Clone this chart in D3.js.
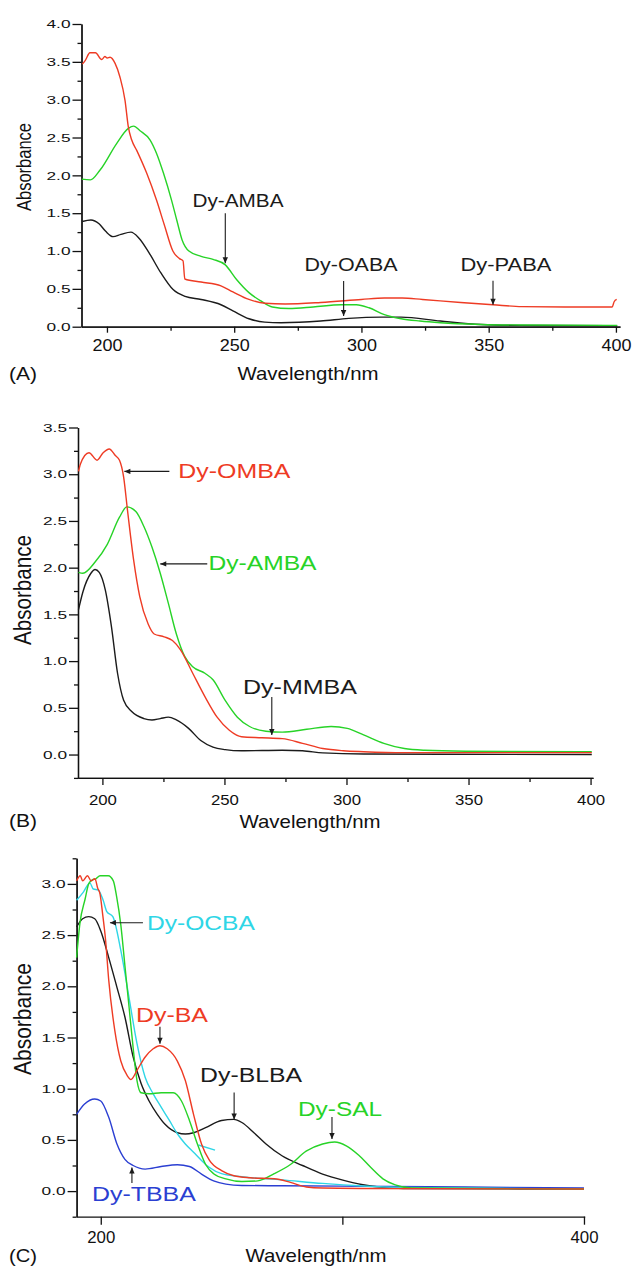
<!DOCTYPE html>
<html>
<head>
<meta charset="utf-8">
<script src="https://cdn.jsdelivr.net/npm/d3@7"></script>
<style>
  body { margin: 0; background: #fff; }
  svg { display: block; font-family: Arial, "Liberation Sans", Helvetica, sans-serif; }
</style>
</head>
<body>
<svg id="chart" width="632" height="1267"></svg>
<script>
// ---- colours
const RED = '#ee3b24', GREEN = '#27d327', BLACK = '#1b1b1b', CYAN = '#2fd6e6', BLUE = '#2b3fd2';

// ---- panel A spectra  [wavelength nm, absorbance]
const aPABA = [[190.3,3.47],[191.5,3.52],[193.3,3.62],[195.5,3.62],[197.9,3.53],[199.2,3.57],[200.1,3.55],[201.2,3.56],[203.2,3.48],[205.1,3.30],[207.1,2.99],[208.4,2.64],[209.7,2.47],[211.7,2.33],[215.6,2.03],[219.5,1.67],[222.5,1.35],[225.9,1.0],[228.5,0.9],[229.9,0.87],[230.6,0.63],[237,0.59],[244.8,0.54],[249.5,0.46],[255.8,0.36],[262.1,0.31],[270,0.30],[284,0.32],[300,0.36],[309,0.38],[316,0.38],[324,0.36],[339,0.32],[351.7,0.29],[363,0.265],[380,0.26],[398.5,0.26],[399.3,0.33],[400.3,0.36]];
const aAMBA = [[190.1,1.95],[193.5,1.94],[197.3,2.07],[203.8,2.42],[208.4,2.62],[210.5,2.65],[213,2.59],[216.9,2.47],[219.5,2.29],[222.2,2.03],[225.4,1.67],[227.5,1.4],[229.5,1.15],[232.2,1.0],[237,0.93],[241.7,0.89],[246.4,0.82],[251,0.62],[255.8,0.45],[260.5,0.34],[265,0.26],[271.5,0.24],[281,0.26],[292,0.29],[298,0.29],[303,0.25],[309,0.16],[315.6,0.105],[323,0.075],[331,0.053],[347,0.03],[362.7,0.022],[400.5,0.018]];
const aOABA = [[190.3,1.39],[193.7,1.41],[196.9,1.36],[199.5,1.26],[202.4,1.19],[205.5,1.22],[209.4,1.25],[212.6,1.17],[216.5,0.98],[221.2,0.71],[226,0.49],[230.7,0.40],[237,0.36],[244.8,0.29],[249.5,0.21],[255.8,0.105],[262,0.06],[268.4,0.053],[284,0.075],[295,0.11],[307.7,0.127],[315.6,0.127],[331,0.075],[347,0.03],[362.7,0.018],[400.5,0.013]];

// ---- panel B spectra
const bOMBA = [[190.2,3.03],[191,3.11],[194.5,3.23],[197.8,3.15],[200.3,3.23],[202.8,3.27],[205.3,3.2],[207,3.15],[208.7,2.97],[210.3,2.61],[212.8,2.08],[215.3,1.69],[218.7,1.40],[221.2,1.29],[225.3,1.26],[228.7,1.22],[232,1.12],[237,0.87],[242,0.62],[247,0.40],[252,0.26],[257,0.19],[265.3,0.18],[273.7,0.17],[282,0.12],[290.3,0.064],[298.7,0.04],[307,0.03],[323.7,0.02],[400.5,0.02]];
const bAMBA = [[190.2,1.95],[192,1.94],[197,2.06],[202,2.25],[207,2.54],[210,2.65],[213.7,2.6],[217,2.44],[220.3,2.22],[223.7,1.94],[227,1.62],[230.3,1.29],[233.7,1.05],[237,0.94],[242,0.87],[245.3,0.8],[250.3,0.58],[255.3,0.40],[260.3,0.30],[267,0.25],[273.7,0.24],[283.7,0.27],[293.7,0.30],[300.3,0.28],[307,0.21],[315.3,0.12],[323.7,0.064],[332,0.046],[348.7,0.036],[400.5,0.03]];
const bMMBA = [[190.2,1.55],[192,1.74],[195.3,1.94],[197,1.98],[198.7,1.95],[201.2,1.76],[203.7,1.37],[206.2,0.87],[208.7,0.58],[212,0.46],[217,0.385],[220.3,0.37],[223.7,0.385],[227,0.40],[230.3,0.37],[235.3,0.28],[240.3,0.15],[245.3,0.08],[250.3,0.053],[257,0.04],[273.7,0.046],[282,0.04],[290.3,0.018],[307,0.005],[400.5,0.0]];

// ---- panel C spectra
const cBA = [[190,3.03],[191.5,3.08],[192.5,3.03],[194.5,3.08],[196,3.03],[197.6,3.05],[198.7,2.96],[199.7,2.9],[200.8,2.7],[202,2.45],[203.3,2.06],[205.8,1.57],[208.3,1.27],[210.9,1.13],[212.5,1.09],[215,1.18],[218.4,1.31],[221.7,1.39],[224.5,1.42],[227.5,1.39],[231.7,1.27],[235,1.08],[238.4,0.75],[241.7,0.46],[245,0.30],[250,0.2],[255.1,0.15],[261.8,0.13],[271.8,0.12],[278.5,0.085],[285.1,0.04],[291.8,0.03],[308.5,0.026],[400,0.02]];
const cSAL = [[190,2.28],[191.4,2.62],[193.5,2.85],[195,3.0],[196.5,3.04],[198,3.05],[199.7,3.08],[203.1,3.08],[205.2,3.03],[206.6,2.87],[208.3,2.6],[210,2.2],[211.7,1.8],[213.4,1.4],[215,1.08],[216.7,0.96],[220,0.95],[225,0.96],[230,0.96],[233.4,0.88],[236.7,0.69],[240,0.46],[243.4,0.26],[246.7,0.17],[251.8,0.12],[258.4,0.094],[265,0.10],[271.8,0.17],[278.5,0.26],[285,0.39],[291.8,0.46],[296.8,0.48],[301.8,0.44],[306.8,0.35],[311.8,0.23],[316.8,0.12],[321.9,0.06],[328.5,0.03],[400,0.02]];
const cOCBA = [[190,2.84],[192.8,2.92],[195.5,3.01],[196.9,2.95],[199,2.94],[201,2.84],[202.5,2.73],[205,2.68],[208.3,2.35],[211.7,1.89],[215,1.44],[218.4,1.11],[221.7,0.95],[225,0.82],[228.4,0.69],[231.7,0.56],[235,0.46],[238.4,0.38],[241.7,0.30],[245,0.23],[250,0.17],[258.4,0.14],[275,0.11],[291.8,0.075],[308.5,0.05],[325.2,0.036],[400,0.02]];
const cOCBAstray = [[240.4,0.45],[247.3,0.40]];
const cBLBA = [[190,2.58],[192.5,2.66],[195,2.68],[197.5,2.66],[200,2.54],[203.3,2.28],[206.7,1.99],[210,1.70],[213.4,1.31],[216.7,1.05],[220,0.88],[223.4,0.75],[226.7,0.65],[231.7,0.57],[235,0.557],[238.4,0.57],[243.4,0.62],[250,0.69],[255,0.70],[258.4,0.67],[263.4,0.57],[268.4,0.46],[275,0.345],[283.5,0.25],[291.8,0.166],[300.2,0.107],[308.5,0.062],[316.9,0.036],[325.2,0.026],[400,0.02]];
const cTBBA = [[190,0.75],[193.3,0.85],[197.5,0.9],[200,0.88],[203.3,0.72],[206.7,0.46],[210,0.31],[213.4,0.25],[218.4,0.215],[225,0.24],[231.7,0.257],[236.7,0.24],[241.7,0.166],[246.7,0.10],[251.8,0.068],[258.4,0.055],[275,0.052],[320,0.045],[400,0.03]];

// ---- ticks
const xTicksAB = [200, 250, 300, 350, 400];
const xMinorAB = [225, 275, 325, 375];
const xTicksC = [200, 300, 400];
const yTicksA = [0, 0.5, 1, 1.5, 2, 2.5, 3, 3.5, 4];
const yMinorA = [0.25, 0.75, 1.25, 1.75, 2.25, 2.75, 3.25, 3.75];
const yTicksB = [0, 0.5, 1, 1.5, 2, 2.5, 3, 3.5];
const yMinorB = [-0.25, 0.25, 0.75, 1.25, 1.75, 2.25, 2.75, 3.25];
const yTicksC = [0, 0.5, 1, 1.5, 2, 2.5, 3];
const yMinorC = [-0.25, 0.25, 0.75, 1.25, 1.75, 2.25, 2.75, 3.25];

// ---- labels: text, colour, arrow tip [wavelength, absorbance]
const notesA = [
  { text: 'Dy-AMBA', color: BLACK, tip: [246.5, 0.84] },
  { text: 'Dy-OABA', color: BLACK, tip: [293, 0.14] },
  { text: 'Dy-PABA', color: BLACK, tip: [351.7, 0.29] }
];
const notesB = [
  { text: 'Dy-OMBA', color: RED, tip: [209, 3.03] },
  { text: 'Dy-AMBA', color: GREEN, tip: [223.7, 2.04] },
  { text: 'Dy-MMBA', color: BLACK, tip: [269.4, 0.21] }
];
const notesC = [
  { text: 'Dy-OCBA', color: CYAN, tip: [203.8, 2.62] },
  { text: 'Dy-BA', color: RED, tip: [224.5, 1.44] },
  { text: 'Dy-BLBA', color: BLACK, tip: [255.2, 0.70] },
  { text: 'Dy-SAL', color: GREEN, tip: [295.7, 0.51] },
  { text: 'Dy-TBBA', color: BLUE, tip: [212.9, 0.23] }
];

// layout of each label: arrow direction/length, text offset (from arrow tail), text width
const noteLayout = {
  A: [
    { dir: 'down', len: 50, dx: 12.7, dy: -6.6, anchor: 'middle', w: 91, fs: 18.5 },
    { dir: 'down', len: 35, dx: 7.4, dy: -10, anchor: 'middle', w: 93, fs: 18.5 },
    { dir: 'down', len: 24, dx: 13, dy: -10, anchor: 'middle', w: 91, fs: 18.5 }
  ],
  B: [
    { dir: 'left', len: 45, dx: 9, dy: 7, anchor: 'start', w: 112, fs: 21 },
    { dir: 'left', len: 47, dx: 1.3, dy: 6, anchor: 'start', w: 108, fs: 21 },
    { dir: 'down', len: 38, dx: -28.8, dy: -3.4, anchor: 'start', w: 114, fs: 21 }
  ],
  C: [
    { dir: 'left', len: 33, dx: 4, dy: 7, anchor: 'start', w: 108, fs: 20 },
    { dir: 'down', len: 17, dx: -24, dy: -5, anchor: 'start', w: 72, fs: 20 },
    { dir: 'down', len: 27, dx: -34, dy: -10, anchor: 'start', w: 102, fs: 20 },
    { dir: 'down', len: 22, dx: -34, dy: -0.7, anchor: 'start', w: 84, fs: 20 },
    { dir: 'up', len: 15.4, dx: -40, dy: 17.7, anchor: 'start', w: 104, fs: 20 }
  ]
};

const svg = d3.select('#chart');

svg.append('defs').append('marker')
  .attr('id', 'ah')
  .attr('viewBox', '0 0 10 10')
  .attr('refX', 10).attr('refY', 5)
  .attr('markerUnits', 'userSpaceOnUse')
  .attr('markerWidth', 7).attr('markerHeight', 6)
  .attr('orient', 'auto')
  .append('path').attr('d', 'M0,0.5 L10,5 L0,9.5 z').attr('fill', BLACK);

const panels = [
  {
    key: 'A', tag: '(A)',
    xDomain: [190, 401.6], xRange: [81.5, 620],
    yDomain: [0, 4], yRange: [326.7, 24],
    xTicks: xTicksAB, xMinor: xMinorAB, xTickLen: 6, xPad: 7, xFs: 16.5, xLabW: 30,
    yTicks: yTicksA, yMinor: yMinorA,
    series: [[aOABA, BLACK], [aAMBA, GREEN], [aPABA, RED]],
    notes: notesA,
    absY: 167, absFs: 20, absW: 88,
    titleY: 380, titleX: 308, tagY: 380
  },
  {
    key: 'B', tag: '(B)',
    xDomain: [190, 401], xRange: [78, 593],
    yDomain: [-0.25, 3.5], yRange: [777.9, 427.5],
    xTicks: xTicksAB, xMinor: xMinorAB, xTickLen: 7, xPad: 9, xFs: 15, xLabW: 28,
    yTicks: yTicksB, yMinor: yMinorB,
    series: [[bMMBA, BLACK], [bAMBA, GREEN], [bOMBA, RED]],
    notes: notesB,
    absY: 590, absFs: 23, absW: 110,
    titleY: 828, titleX: 310, tagY: 826.7
  },
  {
    key: 'C', tag: '(C)',
    xDomain: [190, 400.3], xRange: [76.6, 584.7],
    yDomain: [-0.25, 3.25], yRange: [1216.7, 858.3],
    xTicks: xTicksC, xMinor: [], xTickLen: 8, xPad: 7, xFs: 16, xLabW: 28,
    yTicks: yTicksC, yMinor: yMinorC,
    series: [[cTBBA, BLUE], [cBLBA, BLACK], [cOCBA, CYAN], [cOCBAstray, CYAN], [cSAL, GREEN], [cBA, RED]],
    notes: notesC,
    absY: 1019, absFs: 23, absW: 112,
    titleY: 1262, titleX: 316, tagY: 1262
  }
];

panels.forEach(p => {
  const x = d3.scaleLinear().domain(p.xDomain).range(p.xRange);
  const y = d3.scaleLinear().domain(p.yDomain).range(p.yRange);
  const g = svg.append('g');
  const base = p.yRange[0];

  // x axis
  if (p.xMinor.length) {
    g.append('g').attr('transform', `translate(0,${base})`)
      .call(d3.axisBottom(x).tickValues(p.xMinor).tickSize(4).tickSizeOuter(0).tickFormat(''));
  }
  const xa = g.append('g').attr('transform', `translate(0,${base})`)
    .call(d3.axisBottom(x).tickValues(p.xTicks).tickSize(p.xTickLen).tickSizeOuter(0)
      .tickPadding(p.xPad).tickFormat(d => (p.key === 'C' && d === 300) ? '' : d));
  xa.selectAll('text')
    .attr('font-size', p.xFs).attr('font-family', null).attr('fill', '#111')
    .filter(function () { return this.textContent !== ''; })
    .attr('textLength', p.xLabW).attr('lengthAdjust', 'spacingAndGlyphs');

  // y axis
  g.append('g').attr('transform', `translate(${p.xRange[0]},0)`)
    .call(d3.axisLeft(y).tickValues(p.yMinor).tickSize(4).tickSizeOuter(0).tickFormat(''));
  const ya = g.append('g').attr('transform', `translate(${p.xRange[0]},0)`)
    .call(d3.axisLeft(y).tickValues(p.yTicks).tickSize(9).tickSizeOuter(0)
      .tickPadding(2).tickFormat(d3.format('.1f')));
  ya.selectAll('text')
    .attr('font-size', 11.5).attr('font-family', null).attr('fill', '#111')
    .attr('textLength', 24).attr('lengthAdjust', 'spacingAndGlyphs');

  g.selectAll('.domain, .tick line').attr('stroke', '#111').attr('stroke-width', 1.3);

  // spectra
  const line = d3.line().x(d => x(d[0])).y(d => y(d[1])).curve(d3.curveMonotoneX);
  g.append('g').selectAll('path.spec')
    .data(p.series)
    .join('path')
    .attr('class', 'spec')
    .attr('d', d => line(d[0]))
    .attr('fill', 'none')
    .attr('stroke', d => d[1])
    .attr('stroke-width', 1.4);

  // labels + arrows
  const lay = noteLayout[p.key];
  p.notes.forEach((n, i) => {
    const L = lay[i];
    const tx = x(n.tip[0]), ty = y(n.tip[1]);
    let sx = tx, sy = ty;
    if (L.dir === 'down') sy = ty - L.len;
    if (L.dir === 'up') sy = ty + L.len;
    if (L.dir === 'left') sx = tx + L.len;
    g.append('line')
      .attr('x1', sx).attr('y1', sy).attr('x2', tx).attr('y2', ty)
      .attr('stroke', BLACK).attr('stroke-width', 1.1)
      .attr('marker-end', 'url(#ah)');
    let left = sx + L.dx;
    if (L.anchor === 'middle') left -= L.w / 2;
    g.append('text')
      .attr('x', left).attr('y', sy + L.dy)
      .attr('font-size', L.fs)
      .attr('fill', n.color)
      .attr('textLength', L.w).attr('lengthAdjust', 'spacingAndGlyphs')
      .text(n.text);
  });

  // axis titles
  g.append('text')
    .attr('transform', `translate(31,${p.absY}) rotate(-90)`)
    .attr('text-anchor', 'middle')
    .attr('font-size', p.absFs).attr('fill', '#111')
    .attr('textLength', p.absW).attr('lengthAdjust', 'spacingAndGlyphs')
    .text('Absorbance');
  g.append('text')
    .attr('x', p.titleX - 70.5).attr('y', p.titleY)
    .attr('font-size', 19).attr('fill', '#111')
    .attr('textLength', 141).attr('lengthAdjust', 'spacingAndGlyphs')
    .text('Wavelength/nm');
  g.append('text')
    .attr('x', 9).attr('y', p.tagY)
    .attr('font-size', 19).attr('fill', '#111')
    .attr('textLength', 28).attr('lengthAdjust', 'spacingAndGlyphs')
    .text(p.tag);
});
</script>
</body>
</html>
